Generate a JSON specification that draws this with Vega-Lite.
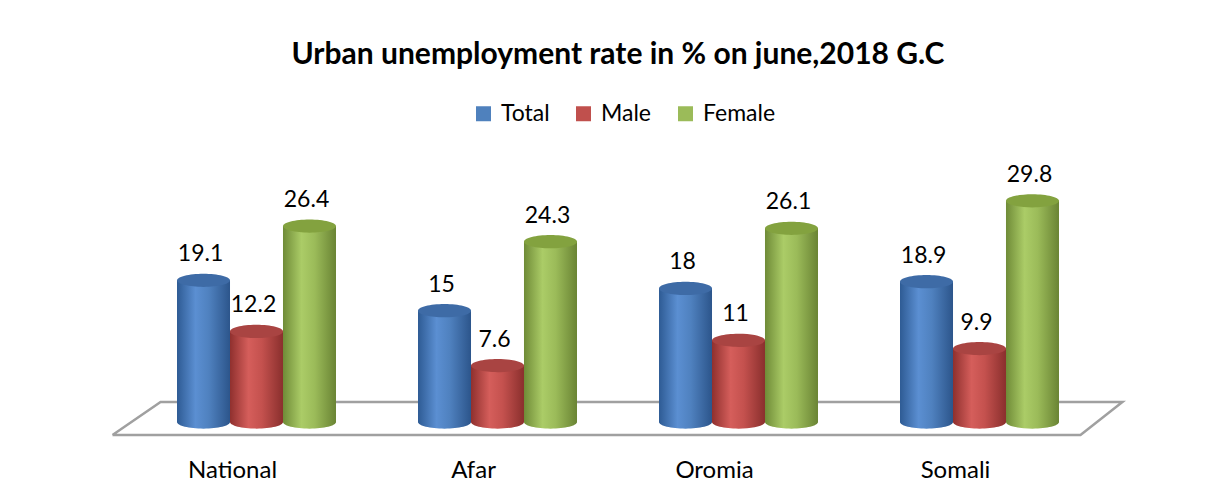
{
  "$schema": "https://vega.github.io/schema/vega-lite/v6.json",
  "width": 964,
  "height": 282,
  "autosize": "none",
  "padding": {"left": 136, "top": 140, "right": 119, "bottom": 77},
  "background": "white",
  "config": {"view": {"stroke": null}, "font": "Lato"},
  "title": {
    "text": "Urban unemployment rate in % on  june,2018 G.C",
    "font": "Lato",
    "fontSize": 30,
    "fontWeight": "bold",
    "color": "#000000",
    "anchor": "middle",
    "offset": 32
  },
  "datasets": {
    "rates": [
      {"region": "National", "series": "Total", "value": 19.1},
      {"region": "National", "series": "Male", "value": 12.2},
      {"region": "National", "series": "Female", "value": 26.4},
      {"region": "Afar", "series": "Total", "value": 15},
      {"region": "Afar", "series": "Male", "value": 7.6},
      {"region": "Afar", "series": "Female", "value": 24.3},
      {"region": "Oromia", "series": "Total", "value": 18},
      {"region": "Oromia", "series": "Male", "value": 11},
      {"region": "Oromia", "series": "Female", "value": 26.1},
      {"region": "Somali", "series": "Total", "value": 18.9},
      {"region": "Somali", "series": "Male", "value": 9.9},
      {"region": "Somali", "series": "Female", "value": 29.8}
    ],
    "floor": [
      {"i": 0, "fx": -0.0975, "fy": -1.75},
      {"i": 1, "fx": 3.919, "fy": -1.75},
      {"i": 2, "fx": 4.093, "fy": 2.7},
      {"i": 3, "fx": 0.102, "fy": 2.7},
      {"i": 4, "fx": -0.0975, "fy": -1.75}
    ]
  },
  "resolve": {"scale": {"x": "independent"}},
  "layer": [
    {
      "data": {"name": "floor"},
      "mark": {"type": "line", "stroke": "#A0A0A0", "strokeWidth": 2.5},
      "encoding": {
        "x": {"field": "fx", "type": "quantitative", "axis": null, "scale": {"domain": [0, 4], "zero": false, "nice": false}},
        "y": {"field": "fy", "type": "quantitative", "axis": null, "scale": {"domain": [0, 38], "nice": false}},
        "order": {"field": "i"}
      }
    },
    {
      "data": {"name": "rates"},
      "encoding": {
        "x": {
          "field": "region",
          "type": "nominal",
          "sort": ["National", "Afar", "Oromia", "Somali"],
          "scale": {"domain": ["National", "Afar", "Oromia", "Somali"], "paddingInner": 0, "paddingOuter": 0},
          "axis": {
            "title": null,
            "domain": false,
            "ticks": false,
            "labelAngle": 0,
            "labelFont": "Lato",
            "labelFontSize": 24,
            "labelColor": "#000000",
            "labelPadding": 36,
            "labelOffset": -24
          }
        },
        "xOffset": {
          "field": "series",
          "type": "nominal",
          "scale": {"domain": ["Total", "Male", "Female"], "paddingInner": 0, "paddingOuter": 0.774}
        },
        "y": {"field": "value", "type": "quantitative", "axis": null, "scale": {"domain": [0, 38], "nice": false}}
      },
      "layer": [
        {
          "mark": {"type": "bar"},
          "encoding": {
            "color": {
              "field": "series",
              "type": "nominal",
              "scale": {"domain": ["Total", "Male", "Female"], "range": ["#4F81BD", "#C0504D", "#9BBB59"]},
              "legend": {
                "orient": "none",
                "legendX": 336,
                "legendY": -38,
                "direction": "horizontal",
                "title": null,
                "symbolType": "square",
                "symbolSize": 225,
                "symbolStrokeWidth": 0,
                "labelFont": "Lato",
                "labelFontSize": 23,
                "labelColor": "#000000",
                "labelOffset": 6,
                "columnPadding": 22
              }
            }
          }
        },
        {
          "transform": [{"filter": "datum.series === 'Total'"}],
          "mark": {"type": "bar", "color": {"gradient": "linear", "x1": 0, "x2": 1, "y1": 0, "y2": 0, "stops": [
            {"offset": 0, "color": "#2E5B94"}, {"offset": 0.35, "color": "#5B8FD2"}, {"offset": 0.6, "color": "#4F81BF"}, {"offset": 1, "color": "#2C558B"}]}}
        },
        {
          "transform": [{"filter": "datum.series === 'Male'"}],
          "mark": {"type": "bar", "color": {"gradient": "linear", "x1": 0, "x2": 1, "y1": 0, "y2": 0, "stops": [
            {"offset": 0, "color": "#8F302E"}, {"offset": 0.35, "color": "#D55E5B"}, {"offset": 0.6, "color": "#C4514E"}, {"offset": 1, "color": "#8A2F2D"}]}}
        },
        {
          "transform": [{"filter": "datum.series === 'Female'"}],
          "mark": {"type": "bar", "color": {"gradient": "linear", "x1": 0, "x2": 1, "y1": 0, "y2": 0, "stops": [
            {"offset": 0, "color": "#6F8B37"}, {"offset": 0.35, "color": "#ABCC67"}, {"offset": 0.6, "color": "#9BBB59"}, {"offset": 1, "color": "#6A8434"}]}}
        },
        {
          "transform": [{"filter": "datum.series === 'Total'"}],
          "mark": {"type": "point", "filled": true, "opacity": 1, "strokeWidth": 0, "size": 2809, "shape": "M-1,0A1,0.25 0 0,0 1,0Z",
            "fill": {"gradient": "linear", "x1": 0, "x2": 1, "y1": 0, "y2": 0, "stops": [
            {"offset": 0, "color": "#2E5B94"}, {"offset": 0.35, "color": "#5B8FD2"}, {"offset": 0.6, "color": "#4F81BF"}, {"offset": 1, "color": "#2C558B"}]}},
          "encoding": {"y": {"datum": 0}}
        },
        {
          "transform": [{"filter": "datum.series === 'Male'"}],
          "mark": {"type": "point", "filled": true, "opacity": 1, "strokeWidth": 0, "size": 2809, "shape": "M-1,0A1,0.25 0 0,0 1,0Z",
            "fill": {"gradient": "linear", "x1": 0, "x2": 1, "y1": 0, "y2": 0, "stops": [
            {"offset": 0, "color": "#8F302E"}, {"offset": 0.35, "color": "#D55E5B"}, {"offset": 0.6, "color": "#C4514E"}, {"offset": 1, "color": "#8A2F2D"}]}},
          "encoding": {"y": {"datum": 0}}
        },
        {
          "transform": [{"filter": "datum.series === 'Female'"}],
          "mark": {"type": "point", "filled": true, "opacity": 1, "strokeWidth": 0, "size": 2809, "shape": "M-1,0A1,0.25 0 0,0 1,0Z",
            "fill": {"gradient": "linear", "x1": 0, "x2": 1, "y1": 0, "y2": 0, "stops": [
            {"offset": 0, "color": "#6F8B37"}, {"offset": 0.35, "color": "#ABCC67"}, {"offset": 0.6, "color": "#9BBB59"}, {"offset": 1, "color": "#6A8434"}]}},
          "encoding": {"y": {"datum": 0}}
        },
        {
          "mark": {"type": "point", "filled": true, "opacity": 1, "strokeWidth": 0, "size": 2809, "shape": "M-1,0A1,0.25 0 1,1 1,0A1,0.25 0 1,1 -1,0Z"},
          "encoding": {
            "fill": {
              "field": "series",
              "type": "nominal",
              "scale": {"domain": ["Total", "Male", "Female"], "range": ["#3E6BA6", "#A94442", "#83A23F"]},
              "legend": null
            }
          }
        },
        {
          "mark": {"type": "text", "baseline": "middle", "align": "center", "dy": -26, "dx": -3, "font": "Lato", "fontSize": 23, "color": "#000000"},
          "encoding": {"text": {"field": "value", "type": "quantitative"}}
        }
      ]
    }
  ]
}
